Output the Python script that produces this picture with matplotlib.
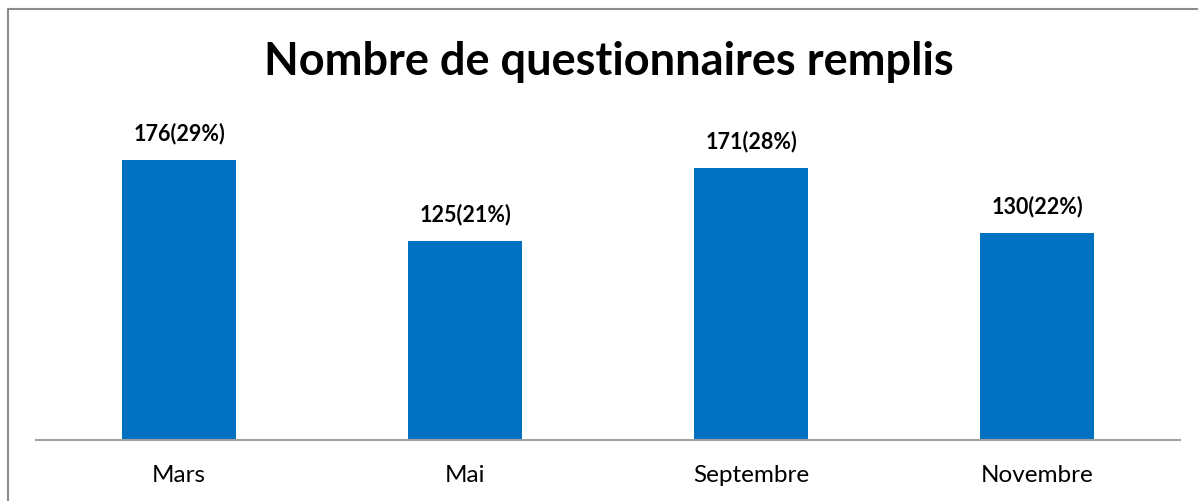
import matplotlib.pyplot as plt
from matplotlib.lines import Line2D

months = ["Mars", "Mai", "Septembre", "Novembre"]
counts = [176, 125, 171, 130]
labels = ["176(29%)", "125(21%)", "171(28%)", "130(22%)"]

W, H = 1198, 502
fig = plt.figure(figsize=(W / 100, H / 100), dpi=100)
plt.rcParams['font.family'] = ['Lato', 'DejaVu Sans']

# plot area: baseline at y=441 px, x from 36 to 1180
ax = fig.add_axes([36 / W, (H - 441) / H, (1180 - 36) / W, 318 / H])
x = range(len(months))
ax.bar(x, counts, width=0.4, color='#0070C0')
ax.set_xlim(-0.5, len(months) - 0.5)
ax.set_ylim(0, 200)

for xi, c, lab in zip(x, counts, labels):
    ax.annotate(lab, (xi, c), xytext=(0, 20), textcoords='offset points',
                ha='center', va='center', fontsize=15.5, fontweight='bold',
                color='black')

ax.set_xticks(list(x))
ax.set_xticklabels(months, fontsize=17.5)
ax.tick_params(axis='x', length=0, pad=17)
ax.set_yticks([])
for s in ['top', 'right', 'left']:
    ax.spines[s].set_visible(False)
ax.spines['bottom'].set_color('#A0A0A0')
ax.spines['bottom'].set_linewidth(1.5)

fig.text(609 / W, 1 - 62 / H, "Nombre de questionnaires remplis",
         ha='center', va='center', fontsize=32.5, fontweight='bold')

# outer frame (left and top only visible in the crop)
fig.add_artist(Line2D([7.5 / W, 7.5 / W, 1], [0, 1 - 9.5 / H, 1 - 9.5 / H],
                      transform=fig.transFigure, color='#8C8C8C', lw=1.5))

fig.savefig('out.png', dpi=100)
